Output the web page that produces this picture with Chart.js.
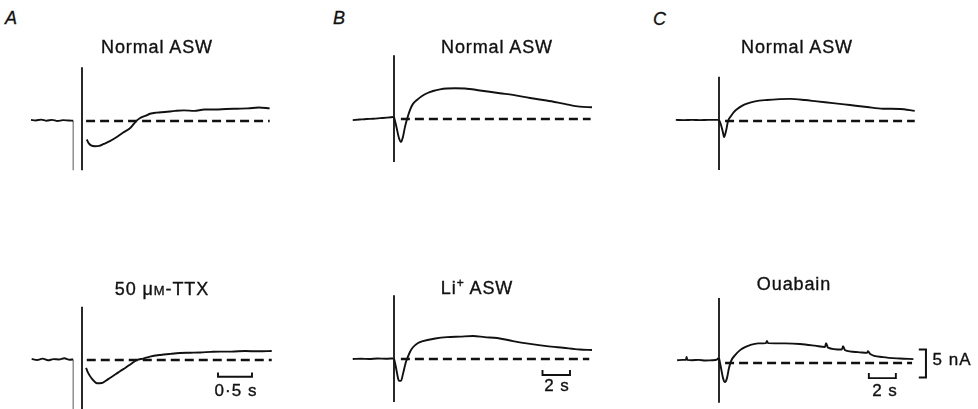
<!DOCTYPE html>
<html>
<head>
<meta charset="utf-8">
<script src="https://cdn.jsdelivr.net/npm/chart.js@4.4.1/dist/chart.umd.min.js"></script>
<style>
  html, body { margin: 0; padding: 0; background: #fff; }
  #fig { position: relative; width: 978px; height: 409px; overflow: hidden;
         font-family: "Liberation Sans", Arial, sans-serif; color: #111; }
  #fig canvas { position: absolute; }
  .title { position: absolute; transform: translate(-50%, -50%); white-space: nowrap;
           font-size: 18px; letter-spacing: 0.9px; -webkit-text-stroke: 0.35px #111; }
  .panel { position: absolute; font-style: italic; font-size: 18px; -webkit-text-stroke: 0.3px #111; }
  .bar { position: absolute; transform: translate(-50%, -50%); white-space: nowrap;
         font-size: 17px; letter-spacing: 1px; -webkit-text-stroke: 0.35px #111; }
  .sc { font-variant: small-caps; }
</style>
</head>
<body>
<div id="fig"></div>
<script>
// ---- Recorded membrane currents (time in s from stimulus, current in nA, 0 = holding level) ----

// A: Normal ASW
const aTopPreT  = [-0.75, -0.68, -0.6, -0.52, -0.44, -0.36, -0.28, -0.2, -0.13];
const aTopPreI  = [0.2, 0.1, 0.25, 0.05, 0.2, 0.0, 0.15, 0.1, 0.05];
const aTopPostT = [0.07, 0.1, 0.14, 0.19, 0.25, 0.32, 0.41, 0.5, 0.6, 0.71, 0.79, 0.85, 0.93, 1.0,
                   1.1, 1.22, 1.37, 1.5, 1.65, 1.8, 1.96, 2.12, 2.28, 2.44, 2.6, 2.76];
const aTopPostI = [-3.3, -4.0, -4.4, -4.5, -4.45, -4.1, -3.6, -2.95, -2.1, -1.25, -0.1, 0.5, 0.9, 1.3,
                   1.5, 1.6, 1.8, 1.9, 1.8, 2.05, 2.05, 2.15, 2.2, 2.25, 2.4, 2.25];
// A: 50 uM-TTX
const aBotPreT  = [-0.74, -0.66, -0.58, -0.5, -0.42, -0.34, -0.26, -0.18, -0.13];
const aBotPreI  = [0.2, 0.0, 0.25, -0.05, 0.15, 0.1, 0.3, 0.05, 0.1];
const aBotPostT = [0.06, 0.09, 0.15, 0.22, 0.29, 0.35, 0.41, 0.5, 0.56, 0.65, 0.72, 0.81, 0.9, 1.0,
                   1.15, 1.3, 1.44, 1.6, 1.74, 1.9, 2.03, 2.2, 2.4, 2.6, 2.79];
const aBotPostI = [-1.4, -2.3, -3.4, -4.15, -4.1, -3.7, -3.2, -2.5, -2.0, -1.3, -0.7, 0.0, 0.25, 0.6,
                   0.9, 1.1, 1.25, 1.3, 1.35, 1.45, 1.5, 1.5, 1.6, 1.55, 1.6];

// B: Normal ASW
const bTopPreT  = [-3.0, -2.5, -2.0, -1.5, -1.0, -0.5, -0.07];
const bTopPreI  = [-0.2, -0.1, 0.0, 0.05, 0.15, 0.25, 0.35];
const bTopPostT = [0.0, 0.15, 0.36, 0.51, 0.65, 0.8, 0.95, 1.16, 1.38, 1.67, 2.04, 2.4, 2.84, 3.35,
                   3.85, 4.44, 5.16, 6.25, 7.7, 8.65, 9.9, 11.1, 12.4, 13.5, 14.4];
const bTopPostI = [0.35, -1.1, -3.4, -4.1, -3.2, -1.4, 0.0, 1.6, 2.7, 3.4, 4.1, 4.6, 5.0, 5.3,
                   5.45, 5.5, 5.45, 5.1, 4.6, 4.3, 3.75, 3.3, 2.7, 2.2, 2.1];
// B: Li+ ASW
const bBotPreT  = [-3.0, -2.4, -1.8, -1.2, -0.6, -0.07];
const bBotPreI  = [0.0, 0.05, 0.0, 0.1, 0.05, 0.1];
const bBotPostT = [0.0, 0.15, 0.29, 0.36, 0.51, 0.65, 0.87, 0.95, 1.16, 1.38, 1.75, 2.1, 3.0, 3.85,
                   4.8, 5.75, 6.6, 7.5, 8.65, 9.9, 11.1, 12.3, 13.5, 14.4];
const bBotPostI = [0.1, -1.6, -3.4, -3.9, -3.9, -2.7, -0.5, 0.0, 1.25, 2.1, 2.85, 3.2, 3.65, 3.9,
                   4.0, 4.1, 3.9, 3.75, 3.2, 2.7, 2.3, 2.0, 1.7, 1.6];

// C: Normal ASW
const cTopPreT  = [-3.2, -2.6, -2.0, -1.4, -0.8, -0.07];
const cTopPreI  = [0.2, 0.15, 0.2, 0.15, 0.2, 0.2];
const cTopPostT = [0.0, 0.15, 0.3, 0.37, 0.52, 0.67, 0.89, 1.1, 1.33, 1.7, 2.07, 2.67, 3.55, 4.5,
                   5.26, 6.37, 7.26, 8.44, 9.7, 10.96, 12.15, 13.4, 14.5];
const cTopPostI = [0.2, -0.7, -2.1, -2.9, -1.8, 0.0, 0.9, 1.6, 2.1, 2.7, 3.1, 3.5, 3.75, 3.9,
                   3.95, 3.75, 3.5, 3.2, 2.85, 2.5, 2.2, 2.15, 1.8];
// C: Ouabain
const cBotPreT  = [-3.1, -2.7, -2.45, -2.4, -2.35, -2.0, -1.5, -1.0, -0.5, -0.15, -0.07];
const cBotPreI  = [0.5, 0.55, 0.55, 1.1, 0.55, 0.5, 0.55, 0.45, 0.5, 0.6, 0.9];
const cBotPostT = [0.0, 0.15, 0.3, 0.44, 0.59, 0.74, 0.89, 1.19, 1.56, 1.93, 2.3, 2.89, 3.48, 3.55,
                   3.63, 4.89, 6.0, 7.1, 7.85, 7.93, 8.07, 9.1, 9.19, 9.33, 10.3, 10.96, 11.04,
                   11.2, 12.15, 13.4, 14.4];
const cBotPostI = [0.9, -0.9, -2.7, -3.4, -2.7, -0.9, 0.35, 1.4, 2.3, 2.85, 3.2, 3.5, 3.55, 3.95,
                   3.55, 3.5, 3.4, 3.1, 2.85, 3.55, 2.75, 2.4, 3.0, 2.3, 1.95, 1.8, 2.1,
                   1.6, 1.05, 0.8, 0.7];

// Stimulus artefacts: [time, current at start, current at end]
const aTopStep = [-0.13, 0.05, -8.8];
const aTopStim = [0, 9.6, -8.8];
const aBotStep = [-0.13, 0.1, -9.5];
const aBotStim = [0, 9.5, -9.5];
const bTopStim = [0, 11.4, -7.7];
const bBotStim = [0, 11.4, -7.7];
const cTopStim = [0, 7.9, -8.75];
const cBotStim = [0, 11.6, -7.1];

// Dashed holding-current level: [start, end] in s
const aTopBase = [0.06, 2.76];
const aBotBase = [0.07, 2.79];
const bTopBase = [0.5, 14.3];
const bBotBase = [0.5, 14.2];
const cTopBase = [0.45, 14.5];
const cBotBase = [0.45, 14.3];

// Calibration bars
const aTimeBar = [2.0, 2.5];      // 0.5 s
const bTimeBar = [10.8, 12.8];    // 2 s
const cTimeBar = [11.1, 13.1];    // 2 s
const cCurrentBar = [2.4, -2.6];  // 5 nA

// Text
const panelLetters = ['A', 'B', 'C'];
const topTitles = ['Normal ASW', 'Normal ASW', 'Normal ASW'];
const bottomTitles = ['50 μ<span class="sc">m</span>-TTX', 'Li<sup style="font-size:12px">+</sup> ASW', 'Ouabain'];
const timeBarLabels = ['0·5 s', '2 s', '2 s'];
const currentBarLabel = '5 nA';

// ---- Layout ----
const PX_PER_NA = 5.6;
const fig = document.getElementById('fig');

const zip = (t, i) => t.map((v, k) => ({ x: v, y: i[k] }));
const solid = (data, w = 1.9, c = '#111') => ({ data, borderColor: c, borderWidth: w,
  pointRadius: 0, fill: false, tension: 0, cubicInterpolationMode: 'monotone' });
const vline = (s, w = 1.8, c = '#111') => solid([{ x: s[0], y: s[1] }, { x: s[0], y: s[2] }], w, c);
const dashed = (b) => ({ data: [{ x: b[0], y: 0 }, { x: b[1], y: 0 }], borderColor: '#111',
  borderWidth: 2.3, borderDash: [9, 5], pointRadius: 0, fill: false });
const timeBar = (b, y, tick) => solid([{ x: b[0], y: y + tick }, { x: b[0], y }, { x: b[1], y },
  { x: b[1], y: y + tick }], 1.9);

function panel(box, datasets) {
  const cv = document.createElement('canvas');
  cv.width = box.w; cv.height = box.h;
  cv.style.left = box.left + 'px'; cv.style.top = box.top + 'px';
  fig.appendChild(cv);
  new Chart(cv, {
    type: 'line',
    data: { datasets },
    options: {
      responsive: false, animation: false, events: [], devicePixelRatio: 1,
      layout: { padding: 0 },
      plugins: { legend: { display: false }, tooltip: { enabled: false } },
      scales: {
        x: { type: 'linear', display: false,
             min: (box.left - box.x0) / box.pxs, max: (box.left + box.w - box.x0) / box.pxs },
        y: { type: 'linear', display: false,
             min: (box.y0 - (box.top + box.h)) / PX_PER_NA, max: (box.y0 - box.top) / PX_PER_NA }
      }
    }
  });
}

// Column A (0.5 s bar)
panel({ left: 20, top: 50, w: 270, h: 125, x0: 82, y0: 121, pxs: 68 }, [
  solid(zip(aTopPreT, aTopPreI)), vline(aTopStep, 1.1, '#666'), vline(aTopStim),
  solid(zip(aTopPostT, aTopPostI)), dashed(aTopBase)
]);
panel({ left: 20, top: 295, w: 270, h: 114, x0: 82, y0: 360, pxs: 68 }, [
  solid(zip(aBotPreT, aBotPreI)), vline(aBotStep, 1.1, '#666'), vline(aBotStim),
  solid(zip(aBotPostT, aBotPostI)), dashed(aBotBase), timeBar(aTimeBar, -3.0, 0.75)
]);

// Column B (2 s bar)
panel({ left: 340, top: 45, w: 265, h: 125, x0: 394, y0: 119, pxs: 13.75 }, [
  solid(zip(bTopPreT, bTopPreI)), vline(bTopStim), solid(zip(bTopPostT, bTopPostI)), dashed(bTopBase)
]);
panel({ left: 340, top: 285, w: 265, h: 124, x0: 394, y0: 359, pxs: 13.75 }, [
  solid(zip(bBotPreT, bBotPreI)), vline(bBotStim), solid(zip(bBotPostT, bBotPostI)), dashed(bBotBase),
  timeBar(bTimeBar, -2.85, 0.9)
]);

// Column C (2 s bar, 5 nA bar)
panel({ left: 660, top: 60, w: 275, h: 120, x0: 719, y0: 121, pxs: 13.5 }, [
  solid(zip(cTopPreT, cTopPreI)), vline(cTopStim), solid(zip(cTopPostT, cTopPostI)), dashed(cTopBase)
]);
panel({ left: 660, top: 285, w: 275, h: 124, x0: 719, y0: 363, pxs: 13.5 }, [
  solid(zip(cBotPreT, cBotPreI)), vline(cBotStim), solid(zip(cBotPostT, cBotPostI)), dashed(cBotBase),
  timeBar(cTimeBar, -2.7, 0.9),
  solid([{ x: 14.8, y: cCurrentBar[0] }, { x: 15.33, y: cCurrentBar[0] },
         { x: 15.33, y: cCurrentBar[1] }, { x: 14.8, y: cCurrentBar[1] }], 2)
]);

// ---- Text ----
function label(cls, html, x, y) {
  const d = document.createElement('div');
  d.className = cls; d.innerHTML = html;
  d.style.left = x + 'px'; d.style.top = y + 'px';
  fig.appendChild(d);
}
[[5, 8], [333, 8], [653, 9]].forEach((p, k) => label('panel', panelLetters[k], p[0], p[1]));
[[157, 47], [497, 47], [797, 47]].forEach((p, k) => label('title', topTitles[k], p[0], p[1]));
[[162, 289], [477, 287], [794, 284]].forEach((p, k) => label('title', bottomTitles[k], p[0], p[1]));
[[236, 391], [557, 386], [885, 391]].forEach((p, k) => label('bar', timeBarLabels[k], p[0], p[1]));
label('bar', currentBarLabel, 952, 360);
</script>
</body>
</html>
